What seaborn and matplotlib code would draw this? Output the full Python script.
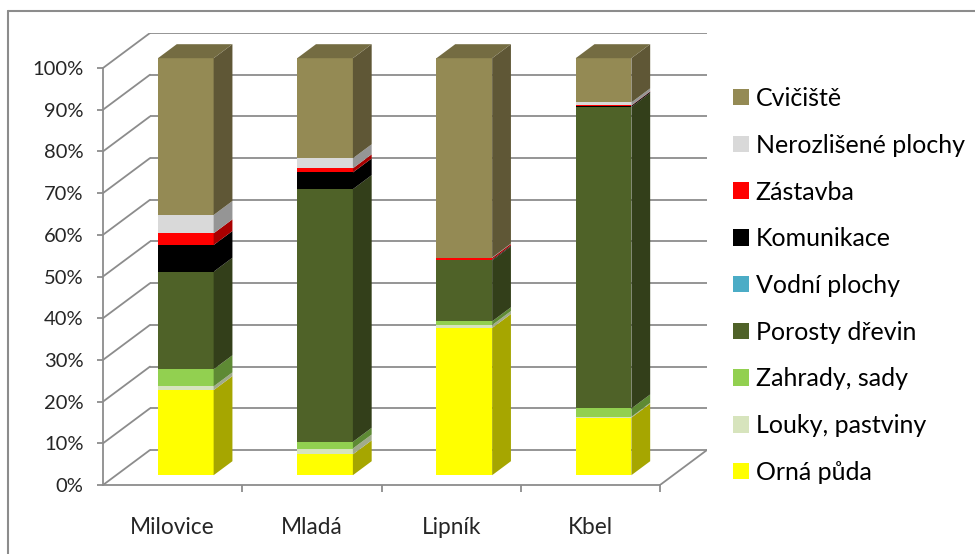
import numpy as np
import pandas as pd
import matplotlib
matplotlib.use("Agg")
import matplotlib.pyplot as plt
import matplotlib.transforms as mtransforms
from matplotlib.patches import Polygon, Patch
from matplotlib.lines import Line2D
import seaborn as sns

# ---------------- data ----------------
categories = ["Milovice", "Mladá", "Lipník", "Kbel"]
series_names = ["Orná půda", "Louky, pastviny", "Zahrady, sady", "Porosty dřevin",
                "Vodní plochy", "Komunikace", "Zástavba", "Nerozlišené plochy", "Cvičiště"]
orna_puda = [20.4, 5.0, 35.3, 13.8]
louky_pastviny = [0.9, 1.4, 0.7, 0.2]
zahrady_sady = [4.1, 1.6, 0.9, 2.0]
porosty_drevin = [23.4, 60.6, 14.6, 72.3]
vodni_plochy = [0.0, 0.0, 0.0, 0.0]
komunikace = [6.4, 4.0, 0.2, 0.3]
zastavba = [2.8, 1.0, 0.4, 0.1]
nerozlisene_plochy = [4.4, 2.4, 0.1, 0.7]
cviciste = [37.6, 24.0, 47.8, 10.6]
y_ticks = [0, 10, 20, 30, 40, 50, 60, 70, 80, 90, 100]

series_values = [orna_puda, louky_pastviny, zahrady_sady, porosty_drevin, vodni_plochy,
                 komunikace, zastavba, nerozlisene_plochy, cviciste]
front_colors = ["#FFFF00", "#D7E4BD", "#92D050", "#4F6228", "#4BACC6",
                "#000000", "#FF0000", "#D9D9D9", "#948A54"]
side_colors = ["#A6A600", "#A1AB8C", "#5E8A34", "#333F1A", "#2F7386",
               "#000000", "#A80000", "#959595", "#5F5736"]
top_color = "#746C42"
grid_color = "#8C8C8C"
text_color = "#262626"

# ---------------- layout (pixels) ----------------
W, H, DPI = 975, 554, 100
px_left, px_right, px_bottom, px_top = 103, 707, 485, 33
px_front_right = 660
px_y100 = 68
unit_x = (px_front_right - px_left) / len(categories)
unit_y = (px_bottom - px_y100) / 100.0
DX = 47 / unit_x          # depth offset in data units (x)
DY = 35 / unit_y          # depth offset in data units (y)
f0, fd = 0.28, 0.40       # bar front position / bar depth as fraction of depth
bar_w = 0.40

sns.set_theme(style="white")
plt.rcParams["font.family"] = ["Lato", "DejaVu Sans"]

fig = plt.figure(figsize=(W / DPI, H / DPI), dpi=DPI)
ax = fig.add_axes([px_left / W, (H - px_bottom) / H,
                   (px_right - px_left) / W, (px_bottom - px_top) / H])
ax.set_facecolor("white")

# ---------------- bars (front faces) ----------------
cum = np.zeros(len(categories))
shift = mtransforms.Affine2D().translate(DX * f0, DY * f0) + ax.transData
for k, (name, vals, col) in enumerate(zip(series_names, series_values, front_colors)):
    vals = np.asarray(vals, dtype=float)
    n_before = len(ax.patches)
    sns.barplot(x=categories, y=vals, bottom=cum, color=col, saturation=1,
                width=bar_w, linewidth=0, edgecolor="none", ax=ax, zorder=3)
    for p in ax.patches[n_before:]:
        p.set_transform(shift)
    # side faces
    for i, (b, v) in enumerate(zip(cum, vals)):
        if v <= 0:
            continue
        xr = i + bar_w / 2 + DX * f0
        y0 = b + DY * f0
        y1 = b + v + DY * f0
        ax.add_patch(Polygon([(xr, y0), (xr + DX * fd, y0 + DY * fd),
                              (xr + DX * fd, y1 + DY * fd), (xr, y1)],
                             closed=True, facecolor=side_colors[k],
                             edgecolor="none", zorder=3))
    cum = cum + vals

# top faces
for i, total in enumerate(cum):
    xl = i - bar_w / 2 + DX * f0
    xr = i + bar_w / 2 + DX * f0
    yt = total + DY * f0
    ax.add_patch(Polygon([(xl, yt), (xr, yt), (xr + DX * fd, yt + DY * fd),
                          (xl + DX * fd, yt + DY * fd)], closed=True,
                         facecolor=top_color, edgecolor="none", zorder=3))

# ---------------- walls / grid ----------------
x0 = -0.5
x1 = len(categories) - 0.5
for v in y_ticks:
    ax.plot([x0 + DX, x1 + DX], [v + DY, v + DY], color=grid_color, lw=1.3, zorder=1,
            solid_capstyle="butt")
    ax.plot([x0, x0 + DX], [v, v + DY], color=grid_color, lw=1.3, zorder=1)
ax.plot([x1, x1 + DX], [0, DY], color=grid_color, lw=1.3, zorder=1)

ax.set_xlim(x0, x1 + DX)
ax.set_ylim(0, 100 + DY)

for s in ["top", "right"]:
    ax.spines[s].set_visible(False)
for s in ["left", "bottom"]:
    ax.spines[s].set_color(grid_color)
    ax.spines[s].set_linewidth(1.3)
ax.spines["left"].set_bounds(0, 100)
ax.spines["bottom"].set_bounds(x0, x1)

ax.set_yticks(y_ticks)
ax.set_yticklabels([f"{v}%" for v in y_ticks], fontsize=14.5, color=text_color)
ax.set_xticks(range(len(categories)))
ax.set_xticklabels(categories, fontsize=16.3, color=text_color)
ax.set_xticks([k + 0.5 for k in range(len(categories))], minor=True)
ax.tick_params(axis="y", which="major", length=4, width=1.3, color=grid_color,
               direction="out", pad=10, left=True)
ax.tick_params(axis="x", which="major", length=0, pad=23)
ax.tick_params(axis="x", which="minor", length=5, width=1.3, color=grid_color,
               direction="out", bottom=True)
ax.set_xlabel("")
ax.set_ylabel("")
ax.grid(False)

# ---------------- legend ----------------
handles = [Patch(facecolor=c, edgecolor="none") for c in front_colors][::-1]
labels = series_names[::-1]
fig.legend(handles, labels, loc="upper left", bbox_to_anchor=(733 / W, 1 - 87 / H),
           frameon=False, fontsize=18, handlelength=0.64, handleheight=0.64,
           handletextpad=0.27, labelspacing=0.95, borderaxespad=0, borderpad=0,
           labelcolor="black")

# ---------------- outer frame ----------------
fig.add_artist(Line2D([8 / W, 8 / W], [0, 1 - 11 / H], transform=fig.transFigure,
                      color=grid_color, lw=1.5))
fig.add_artist(Line2D([8 / W, 1], [1 - 11 / H, 1 - 11 / H], transform=fig.transFigure,
                      color=grid_color, lw=1.5))

fig.savefig("out.png", dpi=DPI)
